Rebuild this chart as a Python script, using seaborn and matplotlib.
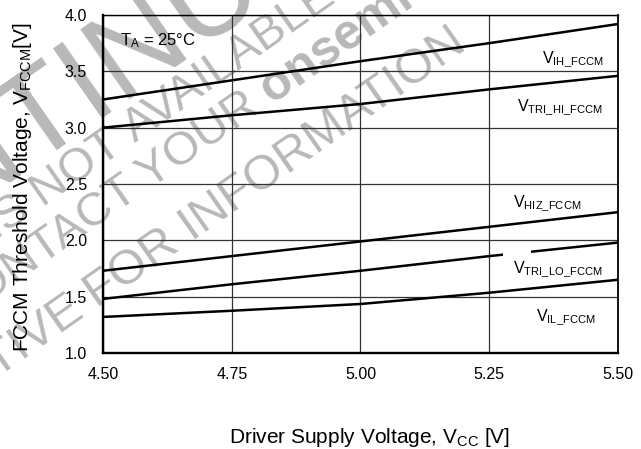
import matplotlib
matplotlib.use("Agg")
import matplotlib.pyplot as plt
from matplotlib.patches import Rectangle
import numpy as np
import pandas as pd
import seaborn as sns

# Driver supply voltage sweep (V)
vcc = [4.50, 4.75, 5.00, 5.25, 5.50]

# FCCM threshold voltages (V) at TA = 25 C
v_ih_fccm = [3.25, 3.42, 3.59, 3.75, 3.92]
v_tri_hi_fccm = [3.00, 3.11, 3.21, 3.34, 3.46]
v_hiz_fccm = [1.73, 1.86, 1.99, 2.12, 2.25]
v_tri_lo_fccm = [1.48, 1.61, 1.73, 1.86, 1.98]
v_il_fccm = [1.32, 1.375, 1.435, 1.535, 1.65]

series_names = ["IH_FCCM", "TRI_HI_FCCM", "HIZ_FCCM", "TRI_LO_FCCM", "IL_FCCM"]
series_values = [v_ih_fccm, v_tri_hi_fccm, v_hiz_fccm, v_tri_lo_fccm, v_il_fccm]

x_ticks = [4.50, 4.75, 5.00, 5.25, 5.50]
x_tick_labels = ["4.50", "4.75", "5.00", "5.25", "5.50"]
y_ticks = [1.0, 1.5, 2.0, 2.5, 3.0, 3.5, 4.0]
y_tick_labels = ["1.0", "1.5", "2.0", "2.5", "3.0", "3.5", "4.0"]

sns.set_theme(style="white")
plt.rcParams["font.family"] = ["Liberation Sans", "DejaVu Sans"]
plt.rcParams["mathtext.fontset"] = "custom"
plt.rcParams["mathtext.rm"] = "Liberation Sans"
plt.rcParams["mathtext.it"] = "Liberation Sans:italic"
plt.rcParams["mathtext.bf"] = "Liberation Sans:bold"

W, H = 641, 449
fig = plt.figure(figsize=(W / 100, H / 100), dpi=100)
fig.patch.set_facecolor("white")
ax = fig.add_axes([0.1607, 0.2138, 0.8034, 0.7528])
ax.patch.set_alpha(0)

# grey status stamp behind the chart
WM_COLOR = "#b8b8b8"
WM_ANGLE = 35
ux, uy = np.cos(np.radians(WM_ANGLE)), np.sin(np.radians(WM_ANGLE))


def stamp(x, y, s, size, weight="normal", ha="right"):
    fig.text(x / W, 1 - y / H, s, rotation=WM_ANGLE, rotation_mode="anchor",
             ha=ha, va="baseline", fontsize=size, fontweight=weight,
             color=WM_COLOR, zorder=-5)


def stamp_line(x, y, head, tail, size, tail_size=None, tail_weight="normal"):
    # tail starts at (x, y); head ends one word space before it
    gap = 0.278 * size * 100 / 72
    stamp(x, y, tail, tail_size or size, tail_weight, ha="left")
    stamp(x - gap * ux, y + gap * uy, head, size, ha="right")


stamp(410, -104, "DISCONTINUED", 90)
stamp_line(135, 143, "THIS DEVICE IS NOT", "AVAILABLE", 34)
stamp_line(272, 104, "CONTACT YOUR", "onsemi", 34, 36, "bold")
stamp(468, 48, "REPRESENTATIVE FOR INFORMATION", 35)

df = pd.concat(
    [pd.DataFrame({"vcc": vcc, "v": vals, "series": name})
     for name, vals in zip(series_names, series_values)],
    ignore_index=True,
)
sns.lineplot(data=df, x="vcc", y="v", hue="series", palette=["black"] * 5,
             legend=False, linewidth=1.8, estimator=None, sort=False, ax=ax)

# break in the TRI_LO trace above its label
ax.add_patch(Rectangle((5.277, 1.80), 0.055, 0.13, facecolor="white",
                       edgecolor="none", zorder=2.5))

ax.set_xlim(4.5, 5.5)
ax.set_ylim(1.0, 4.0)
ax.set_xticks(x_ticks)
ax.set_xticklabels(x_tick_labels)
ax.set_yticks(y_ticks)
ax.set_yticklabels(y_tick_labels)
ax.tick_params(axis="both", length=0, labelsize=11.5, colors="black")
ax.tick_params(axis="y", pad=11.5)
ax.tick_params(axis="x", pad=10)
ax.grid(True, color="#333333", linewidth=0.9)

for side, lw in {"left": 1.7, "bottom": 1.7, "right": 1.3, "top": 1.0}.items():
    ax.spines[side].set_visible(True)
    ax.spines[side].set_color("black")
    ax.spines[side].set_linewidth(lw)

ax.set_xlabel(r"Driver Supply Voltage, V$_{\mathrm{CC}}$ [V]", fontsize=15,
              color="black")
ax.xaxis.set_label_coords(0.517, -0.215)
ax.set_ylabel(r"FCCM Threshold Voltage, V$_{\mathrm{FCCM}}$[V]", fontsize=15,
              color="black")
ax.yaxis.set_label_coords(-0.134, 0.49)

ax.text(4.533, 3.734, r"T$_{\mathrm{A}}$ = 25°C", fontsize=12, va="baseline",
        ha="left", color="black")

label_kw = dict(fontsize=11.5, va="baseline", color="black", zorder=3)
ax.text(5.471, 3.583, r"V$_{\mathrm{IH\_FCCM}}$", ha="right", **label_kw)
ax.text(5.471, 3.157, r"V$_{\mathrm{TRI\_HI\_FCCM}}$", ha="right", **label_kw)
ax.text(5.296, 2.305, r"V$_{\mathrm{HIZ\_FCCM}}$", ha="left", **label_kw)
ax.text(5.296, 1.719, r"V$_{\mathrm{TRI\_LO\_FCCM}}$", ha="left", **label_kw)
ax.text(5.457, 1.293, r"V$_{\mathrm{IL\_FCCM}}$", ha="right", **label_kw)

fig.savefig("out.png", dpi=100)
